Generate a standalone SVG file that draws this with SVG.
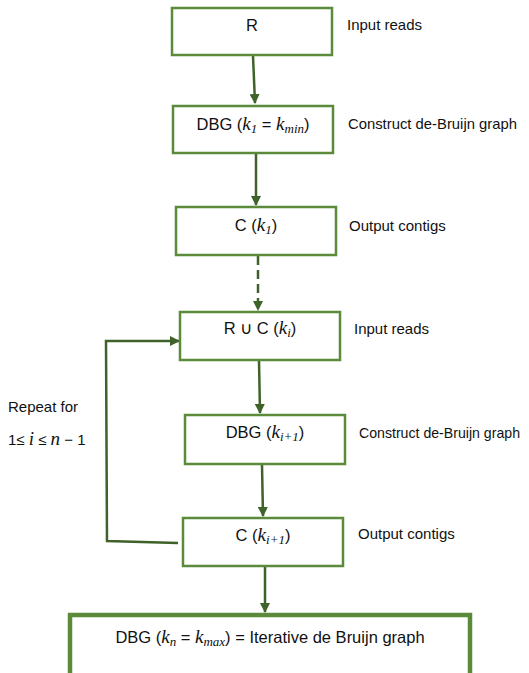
<svg xmlns="http://www.w3.org/2000/svg" width="529" height="673" viewBox="0 0 529 673">
<style>
.box{fill:#fff;stroke:#5a8a3a;stroke-width:2.5}
.t{font-family:"Liberation Sans",Arial,sans-serif;font-size:15px;fill:#111}
.b{font-size:16.5px}
.m{font-family:"Liberation Serif","Times New Roman",serif;font-style:italic;font-size:19px}
.s{font-size:13px}
.c{stroke:#3e6229;stroke-width:2.5;fill:none}
</style>
<defs>
<marker id="ah" viewBox="0 0 10 10" refX="9" refY="5" markerWidth="4" markerHeight="4" orient="auto" markerUnits="strokeWidth">
<path d="M0,0 L10,5 L0,10 z" fill="#3e6229"/>
</marker>
</defs>
<rect width="529" height="673" fill="#fff"/>
<g id="connectors">
<path class="c" d="M253,56 L255,103" marker-end="url(#ah)"/>
<path class="c" d="M256,154 L256,205" marker-end="url(#ah)"/>
<path class="c" d="M258,256 L258,310" stroke-dasharray="9,5" marker-end="url(#ah)"/>
<path class="c" d="M259,361 L260,413" marker-end="url(#ah)"/>
<path class="c" d="M262,465 L263,516" marker-end="url(#ah)"/>
<path class="c" d="M178,543 L107,541 L106,341 L179,341" marker-end="url(#ah)"/>
<path class="c" d="M265,567 L265,612" marker-end="url(#ah)"/>
</g>
<g id="n1"><rect class="box" x="172" y="8" width="160" height="47"/>
<text class="t b" x="252" y="31" text-anchor="middle">R</text></g>
<g id="n2"><rect class="box" x="173" y="106" width="160" height="47"/>
<text class="t b" x="253" y="130" text-anchor="middle">DBG (<tspan class="m">k</tspan><tspan class="m s" dy="3">1</tspan><tspan dy="-3"> =  </tspan><tspan class="m">k</tspan><tspan class="m s" dy="3">min</tspan><tspan dy="-3">)</tspan></text></g>
<g id="n3"><rect class="box" x="176" y="207" width="160" height="48"/>
<text class="t b" x="256" y="231" text-anchor="middle">C (<tspan class="m">k</tspan><tspan class="m s" dy="3">1</tspan><tspan dy="-3">)</tspan></text></g>
<g id="n4"><rect class="box" x="180" y="312" width="160" height="48"/>
<text class="t b" x="260" y="334" text-anchor="middle">R ∪ C (<tspan class="m">k</tspan><tspan class="m s" dy="3">i</tspan><tspan dy="-3">)</tspan></text></g>
<g id="n5"><rect class="box" x="185" y="415" width="160" height="49"/>
<text class="t b" x="265" y="438" text-anchor="middle">DBG (<tspan class="m">k</tspan><tspan class="m s" dy="3">i+1</tspan><tspan dy="-3">)</tspan></text></g>
<g id="n6"><rect class="box" x="183" y="518" width="160" height="48"/>
<text class="t b" x="263" y="541" text-anchor="middle">C (<tspan class="m">k</tspan><tspan class="m s" dy="3">i+1</tspan><tspan dy="-3">)</tspan></text></g>
<g id="n7"><rect x="70" y="615" width="400" height="62" fill="#fff" stroke="#5a8a3a" stroke-width="4.5"/>
<text class="t b" x="270" y="643" text-anchor="middle">DBG (<tspan class="m">k</tspan><tspan class="m s" dy="3">n</tspan><tspan dy="-3"> =  </tspan><tspan class="m">k</tspan><tspan class="m s" dy="3">max</tspan><tspan dy="-3">) = Iterative de Bruijn graph</tspan></text></g>
<g id="labels">
<text class="t" x="347" y="30">Input reads</text>
<text class="t" x="348" y="129" textLength="169" lengthAdjust="spacingAndGlyphs">Construct de-Bruijn graph</text>
<text class="t" x="349" y="231">Output contigs</text>
<text class="t" x="354" y="334">Input reads</text>
<text class="t" x="359" y="438" textLength="161" lengthAdjust="spacingAndGlyphs">Construct de-Bruijn graph</text>
<text class="t" x="358" y="539">Output contigs</text>
<text class="t" x="8" y="412" font-size="12">Repeat for</text>
<text class="t" x="8" y="445" font-size="13">1≤ <tspan class="m" font-size="15">i</tspan> ≤ <tspan class="m" font-size="15">n</tspan> − 1</text>
</g>
</svg>
